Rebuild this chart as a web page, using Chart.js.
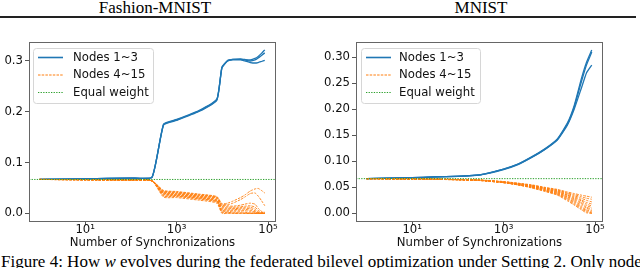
<!DOCTYPE html>
<html>
<head>
<meta charset="utf-8">
<script src="https://cdn.jsdelivr.net/npm/chart.js@4.4.0/dist/chart.umd.min.js"></script>
<style>
  html, body { margin: 0; padding: 0; background: #fff; }
  body { width: 640px; height: 268px; overflow: hidden; position: relative; }
  .title { position: absolute; top: -1px; font: 17px "Liberation Serif", serif; line-height: 17px; color: #000; transform: translateX(-50%); white-space: nowrap; }
  #rule { position: absolute; left: 0; top: 16px; width: 636px; height: 2px; background: #222; }
  canvas { position: absolute; top: 20px; }
  #caption { position: absolute; left: 1px; top: 253px; font: 17px "Liberation Serif", serif; line-height: 17px; white-space: nowrap; color: #000; }
</style>
</head>
<body>
<div class="title" style="left:155px">Fashion-MNIST</div>
<div class="title" style="left:481px">MNIST</div>
<div id="rule"></div>
<canvas id="fmChart" width="310" height="232" style="left:0"></canvas>
<canvas id="mnChart" width="310" height="232" style="left:320px"></canvas>
<div id="caption">Figure 4: How <i>w</i> evolves during the federated bilevel optimization under Setting 2. Only nodes 1~3 have</div>
<script>
// Fashion-MNIST: weights of each node vs. number of synchronizations
const fmX = [1, 10, 100, 290, 520, 1000, 3000, 7600, 9800, 13000, 17000, 25000, 31000, 41000, 52000, 61000, 72000, 85000];

const fmBlue = [
  [0.0667, 0.0680, 0.0695, 0.0712, 0.175, 0.184, 0.201, 0.224, 0.288, 0.301, 0.303, 0.304, 0.303, 0.302, 0.305, 0.309, 0.315, 0.322],
  [0.0667, 0.0680, 0.0695, 0.0710, 0.176, 0.185, 0.202, 0.225, 0.287, 0.300, 0.303, 0.303, 0.302, 0.300, 0.302, 0.306, 0.311, 0.316],
  [0.0667, 0.0679, 0.0694, 0.0709, 0.174, 0.183, 0.200, 0.223, 0.286, 0.300, 0.302, 0.302, 0.300, 0.297, 0.296, 0.297, 0.299, 0.301]
];

const fmOrange = [
  [0.0667, 0.0663, 0.0657, 0.0642, 0.045, 0.043, 0.038, 0.033, 0.019, 0.020, 0.024, 0.031, 0.036, 0.044, 0.048, 0.049, 0.045, 0.040],
  [0.0667, 0.0663, 0.0657, 0.0642, 0.044, 0.042, 0.037, 0.032, 0.018, 0.017, 0.020, 0.027, 0.032, 0.039, 0.040, 0.034, 0.025, 0.015],
  [0.0667, 0.0663, 0.0657, 0.0641, 0.043, 0.041, 0.036, 0.031, 0.016, 0.015, 0.014, 0.016, 0.018, 0.020, 0.018, 0.010, 0.004, 0.002],
  [0.0667, 0.0663, 0.0657, 0.0641, 0.042, 0.040, 0.035, 0.030, 0.014, 0.013, 0.012, 0.013, 0.014, 0.015, 0.012, 0.006, 0.002, 0.001],
  [0.0667, 0.0662, 0.0656, 0.0640, 0.041, 0.039, 0.034, 0.029, 0.012, 0.011, 0.010, 0.011, 0.012, 0.012, 0.008, 0.003, 0.001, 0.000],
  [0.0667, 0.0662, 0.0656, 0.0640, 0.040, 0.038, 0.033, 0.027, 0.010, 0.009, 0.009, 0.010, 0.010, 0.009, 0.005, 0.002, 0.000, 0.000],
  [0.0667, 0.0662, 0.0656, 0.0640, 0.039, 0.037, 0.032, 0.026, 0.008, 0.007, 0.007, 0.008, 0.008, 0.006, 0.003, 0.001, 0.000, 0.000],
  [0.0667, 0.0662, 0.0655, 0.0639, 0.038, 0.036, 0.031, 0.025, 0.006, 0.005, 0.006, 0.006, 0.005, 0.004, 0.002, 0.000, 0.000, 0.000],
  [0.0667, 0.0662, 0.0655, 0.0639, 0.037, 0.035, 0.030, 0.024, 0.005, 0.004, 0.003, 0.003, 0.002, 0.001, 0.000, 0.000, 0.000, 0.000],
  [0.0667, 0.0661, 0.0655, 0.0638, 0.035, 0.034, 0.029, 0.023, 0.003, 0.002, 0.001, 0.001, 0.000, 0.000, 0.000, 0.000, 0.000, 0.000],
  [0.0667, 0.0661, 0.0654, 0.0638, 0.034, 0.033, 0.028, 0.022, 0.002, 0.001, 0.000, 0.000, 0.000, 0.000, 0.000, 0.000, 0.000, 0.000],
  [0.0667, 0.0661, 0.0654, 0.0637, 0.032, 0.031, 0.026, 0.020, 0.000, 0.000, 0.000, 0.000, 0.000, 0.000, 0.000, 0.000, 0.000, 0.000]
];

// MNIST
const mnX = [1, 3, 10, 30, 100, 300, 1000, 2000, 4000, 8000, 15000, 25000, 35000, 50000, 65000, 85000];

const mnBlue = [
  [0.0667, 0.0675, 0.0686, 0.0700, 0.0713, 0.0740, 0.085, 0.094, 0.108, 0.124, 0.143, 0.174, 0.207, 0.258, 0.290, 0.314],
  [0.0667, 0.0675, 0.0685, 0.0699, 0.0712, 0.0738, 0.085, 0.094, 0.107, 0.123, 0.142, 0.172, 0.204, 0.252, 0.285, 0.310],
  [0.0667, 0.0674, 0.0685, 0.0698, 0.0711, 0.0737, 0.084, 0.093, 0.107, 0.123, 0.141, 0.170, 0.200, 0.240, 0.270, 0.285]
];

const mnOrange = [
  [0.0667, 0.0665, 0.0661, 0.0656, 0.0650, 0.0640, 0.061, 0.058, 0.055, 0.050, 0.046, 0.041, 0.038, 0.035, 0.033, 0.031],
  [0.0667, 0.0665, 0.0661, 0.0656, 0.0650, 0.0640, 0.061, 0.058, 0.054, 0.049, 0.045, 0.039, 0.036, 0.032, 0.029, 0.027],
  [0.0667, 0.0665, 0.0661, 0.0655, 0.0649, 0.0638, 0.060, 0.057, 0.054, 0.049, 0.044, 0.038, 0.034, 0.029, 0.025, 0.022],
  [0.0667, 0.0665, 0.0661, 0.0655, 0.0649, 0.0638, 0.060, 0.057, 0.053, 0.048, 0.043, 0.036, 0.032, 0.026, 0.021, 0.018],
  [0.0667, 0.0665, 0.0660, 0.0655, 0.0648, 0.0637, 0.060, 0.057, 0.053, 0.047, 0.042, 0.035, 0.030, 0.024, 0.018, 0.014],
  [0.0667, 0.0665, 0.0660, 0.0655, 0.0648, 0.0636, 0.060, 0.056, 0.052, 0.047, 0.041, 0.034, 0.028, 0.021, 0.015, 0.011],
  [0.0667, 0.0664, 0.0660, 0.0654, 0.0647, 0.0635, 0.060, 0.056, 0.052, 0.046, 0.040, 0.032, 0.026, 0.019, 0.012, 0.008],
  [0.0667, 0.0664, 0.0660, 0.0654, 0.0647, 0.0634, 0.059, 0.056, 0.051, 0.045, 0.039, 0.031, 0.024, 0.016, 0.010, 0.005],
  [0.0667, 0.0664, 0.0660, 0.0654, 0.0646, 0.0633, 0.059, 0.055, 0.051, 0.044, 0.038, 0.029, 0.022, 0.013, 0.007, 0.003],
  [0.0667, 0.0664, 0.0659, 0.0653, 0.0646, 0.0632, 0.059, 0.055, 0.050, 0.044, 0.037, 0.028, 0.020, 0.011, 0.005, 0.001],
  [0.0667, 0.0664, 0.0659, 0.0653, 0.0645, 0.0631, 0.059, 0.055, 0.050, 0.043, 0.036, 0.026, 0.018, 0.009, 0.003, 0.000],
  [0.0667, 0.0664, 0.0659, 0.0653, 0.0645, 0.0630, 0.059, 0.055, 0.049, 0.042, 0.035, 0.024, 0.016, 0.007, 0.001, 0.000]
];

const equalWeight = 1 / 15;

// axis ranges and ticks
const xMin = 0.59;
const xMax = 149600;
const xTickValues = [10, 1000, 100000];
const xTickLabels = ['10\u00B9', '10\u00B3', '10\u2075'];
const fmYTicks = [0, 0.1, 0.2, 0.3];
const mnYTicks = [0, 0.05, 0.1, 0.15, 0.2, 0.25, 0.3];

const legendLabels = ['Nodes 1~3', 'Nodes 4~15', 'Equal weight'];

const BLUE = '#1f77b4';
const ORANGE = '#ff7f0e';
const GREEN = '#2ca02c';
const FONT = { family: '"DejaVu Sans"', size: 11.7, lineHeight: 1 };

function toPoints(xs, ys) {
  return xs.map((x, i) => ({ x: x, y: ys[i] }));
}

function makeDatasets(xs, blue, orange) {
  const ds = [];
  // first dataset is drawn on top in Chart.js
  ds.push({
    data: [{ x: xMin, y: equalWeight }, { x: xMax, y: equalWeight }],
    borderColor: GREEN, borderWidth: 1, borderDash: [1.3, 1.3], pointRadius: 0
  });
  orange.forEach(ys => ds.push({
    data: toPoints(xs, ys),
    borderColor: ORANGE, borderWidth: 0.9, borderDash: [2.5, 1.2], pointRadius: 0, tension: 0.2
  }));
  blue.forEach(ys => ds.push({
    data: toPoints(xs, ys),
    borderColor: BLUE, borderWidth: 1.3, pointRadius: 0, tension: 0.15
  }));
  return ds;
}

// legend box inside the axes + the axes frame
const boxLegend = {
  id: 'boxLegend',
  afterDatasetsDraw(chart, args, opts) {
    const { ctx, chartArea } = chart;
    const x0 = chartArea.left + opts.dx;
    const y0 = chartArea.top + 6;
    const w = opts.w, h = 55;
    ctx.save();
    ctx.beginPath();
    ctx.roundRect(x0 + 0.5, y0 + 0.5, w, h, 3);
    ctx.fillStyle = 'rgba(255,255,255,0.85)';
    ctx.fill();
    ctx.strokeStyle = '#d6d6d6';
    ctx.lineWidth = 1;
    ctx.stroke();

    const colors = [BLUE, ORANGE, GREEN];
    const dashes = [[], [2.5, 1.2], [1.3, 1.3]];
    const widths = [1.6, 1, 1];
    legendLabels.forEach((label, i) => {
      const y = y0 + 9.5 + i * 17.5;
      ctx.beginPath();
      ctx.setLineDash(dashes[i]);
      ctx.strokeStyle = colors[i];
      ctx.lineWidth = widths[i];
      ctx.moveTo(x0 + 5, y);
      ctx.lineTo(x0 + 30, y);
      ctx.stroke();
      ctx.setLineDash([]);
      ctx.fillStyle = '#111';
      ctx.font = '11.7px "DejaVu Sans"';
      ctx.textBaseline = 'middle';
      ctx.fillText(label, x0 + opts.tx, y);
    });

    ctx.strokeStyle = '#666';
    ctx.lineWidth = 1;
    ctx.strokeRect(chartArea.left + 0.5, chartArea.top + 0.5, chartArea.width - 1, chartArea.height - 1);
    ctx.restore();
  }
};

function makeChart(id, xs, blue, orange, yMin, yMax, yTicks, yDigits, yWidth, padRight, legendOpts) {
  return new Chart(document.getElementById(id), {
    type: 'line',
    data: { datasets: makeDatasets(xs, blue, orange) },
    plugins: [boxLegend],
    options: {
      responsive: false,
      animation: false,
      devicePixelRatio: 1,
      layout: { padding: { left: 0, top: 22, right: padRight, bottom: 0 } },
      plugins: {
        legend: { display: false },
        tooltip: { enabled: false },
        boxLegend: legendOpts
      },
      scales: {
        x: {
          type: 'logarithmic',
          min: xMin,
          max: xMax,
          afterBuildTicks: s => { s.ticks = xTickValues.map(v => ({ value: v })); },
          afterFit: s => { s.height = 30; },
          grid: { drawOnChartArea: false, tickLength: 3, tickColor: '#555' },
          border: { display: false },
          ticks: {
            autoSkip: false, maxRotation: 0, padding: -1, color: '#111', font: FONT,
            callback: v => xTickLabels[xTickValues.indexOf(v)]
          },
          title: {
            display: true, text: 'Number of Synchronizations', color: '#111',
            font: { family: '"DejaVu Sans"', size: 11.7, lineHeight: 1.2 },
            padding: { top: 0, bottom: 2 }
          }
        },
        y: {
          min: yMin,
          max: yMax,
          afterBuildTicks: s => { s.ticks = yTicks.map(v => ({ value: v })); },
          afterFit: s => { s.width = yWidth; },
          grid: { drawOnChartArea: false, tickLength: 4, tickColor: '#555' },
          border: { display: false },
          ticks: { padding: 2, color: '#111', font: FONT, callback: v => v.toFixed(yDigits) }
        }
      }
    }
  });
}

makeChart('fmChart', fmX, fmBlue, fmOrange, -0.0171, 0.3374, fmYTicks, 1, 29, 34, { dx: 4, w: 120, tx: 40 });
makeChart('mnChart', mnX, mnBlue, mnOrange, -0.0167, 0.3294, mnYTicks, 2, 36, 27, { dx: 5, w: 119, tx: 38 });
</script>
</body>
</html>
